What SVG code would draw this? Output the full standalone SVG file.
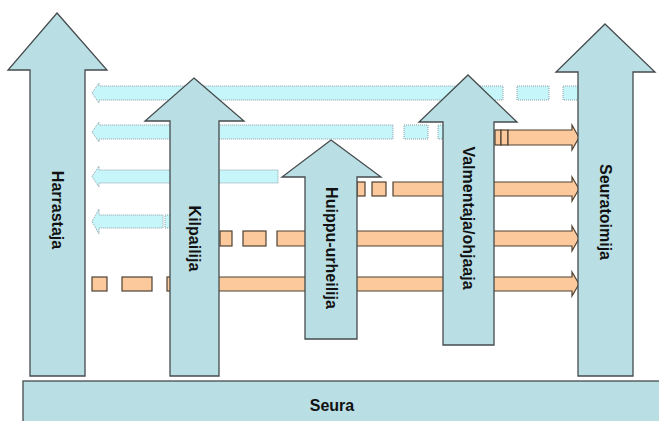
<svg xmlns="http://www.w3.org/2000/svg" width="659" height="421" viewBox="0 0 659 421">
<style>
.cy{fill:#c6f6fa;stroke:#8d9ea6;stroke-width:1;stroke-dasharray:1 1}
.or{fill:#fbc99b;stroke:#4f4232;stroke-width:1.2}
.big{fill:#b9dfe4;stroke:#454b4d;stroke-width:1.3;stroke-linejoin:miter}
.lbl{font-family:"Liberation Sans",Arial,sans-serif;font-weight:bold;font-size:16px;fill:#111}
</style>
<rect width="659" height="421" fill="#ffffff"/>
<g id="connectors">
  <g id="cyan-arrows">
    <path class="cy" d="M92,93 L99,83 L99,86 L470,86 L470,100 L99,100 L99,103 Z"/>
    <rect class="cy" x="476" y="86" width="27" height="14"/>
    <rect class="cy" x="517" y="86" width="32" height="14"/>
    <rect class="cy" x="563" y="86" width="27" height="14"/>
    <path class="cy" d="M92,132 L99,122 L99,125 L393,125 L393,139 L99,139 L99,142 Z"/>
    <rect class="cy" x="404" y="125" width="24" height="14"/>
    <rect class="cy" x="438" y="125" width="20" height="14"/>
    <path class="cy" d="M92,176.5 L99,166 L99,170 L278,170 L278,183 L99,183 L99,187 Z"/>
    <path class="cy" d="M92,221.5 L99,209 L99,215 L163,215 L163,228 L99,228 L99,234 Z"/>
    <rect class="cy" x="165" y="215" width="10" height="13"/>
  </g>
  <g id="orange-arrows">
    <rect class="or" x="495" y="130" width="6" height="15"/>
    <rect class="or" x="501" y="130" width="7" height="15"/>
    <path class="or" d="M508,130 L572,130 L572,125 L579,137.5 L572,150 L572,145 L508,145 Z"/>
    <rect class="or" x="357" y="182" width="8" height="14"/>
    <rect class="or" x="372" y="182" width="14" height="14"/>
    <path class="or" d="M393,182 L572,182 L572,177 L579,189 L572,201 L572,196 L393,196 Z"/>
    <rect class="or" x="220" y="231" width="12" height="15"/>
    <rect class="or" x="243" y="231" width="23" height="15"/>
    <path class="or" d="M277,231 L572,231 L572,226 L579,238.5 L572,251 L572,246 L277,246 Z"/>
    <rect class="or" x="92" y="277" width="15" height="14"/>
    <rect class="or" x="122" y="277" width="30" height="14"/>
    <rect class="or" x="167" y="277" width="10" height="14"/>
    <path class="or" d="M210,277 L572,277 L572,272 L579,284 L572,296 L572,291 L210,291 Z"/>
  </g>
</g>
<g id="harrastaja">
  <path class="big" d="M57,13 L107,70 L85,70 L85,376 L30,376 L30,70 L8,70 Z"/>
  <text class="lbl" transform="translate(57,210) rotate(90)" text-anchor="middle" dominant-baseline="central">Harrastaja</text>
</g>
<g id="kilpailija">
  <path class="big" d="M194,78 L244,121 L219,121 L219,376 L170,376 L170,121 L145,121 Z"/>
  <text class="lbl" transform="translate(194,238.5) rotate(90)" text-anchor="middle" dominant-baseline="central">Kilpailija</text>
</g>
<g id="huippu-urheilija">
  <path class="big" d="M331,140 L381,177 L357,177 L357,339 L305,339 L305,177 L282,177 Z"/>
  <text class="lbl" transform="translate(331,248) rotate(90)" text-anchor="middle" dominant-baseline="central">Huippu-urheilija</text>
</g>
<g id="valmentaja">
  <path class="big" d="M468,75 L517,122 L494,122 L494,345 L443,345 L443,122 L419,122 Z"/>
  <text class="lbl" transform="translate(468,218) rotate(90)" text-anchor="middle" dominant-baseline="central">Valmentaja/ohjaaja</text>
</g>
<g id="seuratoimija">
  <path class="big" d="M605,24 L655,72 L633,72 L633,376 L578,376 L578,72 L556,72 Z"/>
  <text class="lbl" transform="translate(605,212) rotate(90)" text-anchor="middle" dominant-baseline="central">Seuratoimija</text>
</g>
<g id="seura">
  <rect class="big" x="23" y="381" width="660" height="50"/>
  <text class="lbl" x="332" y="411" text-anchor="middle">Seura</text>
</g>
</svg>
